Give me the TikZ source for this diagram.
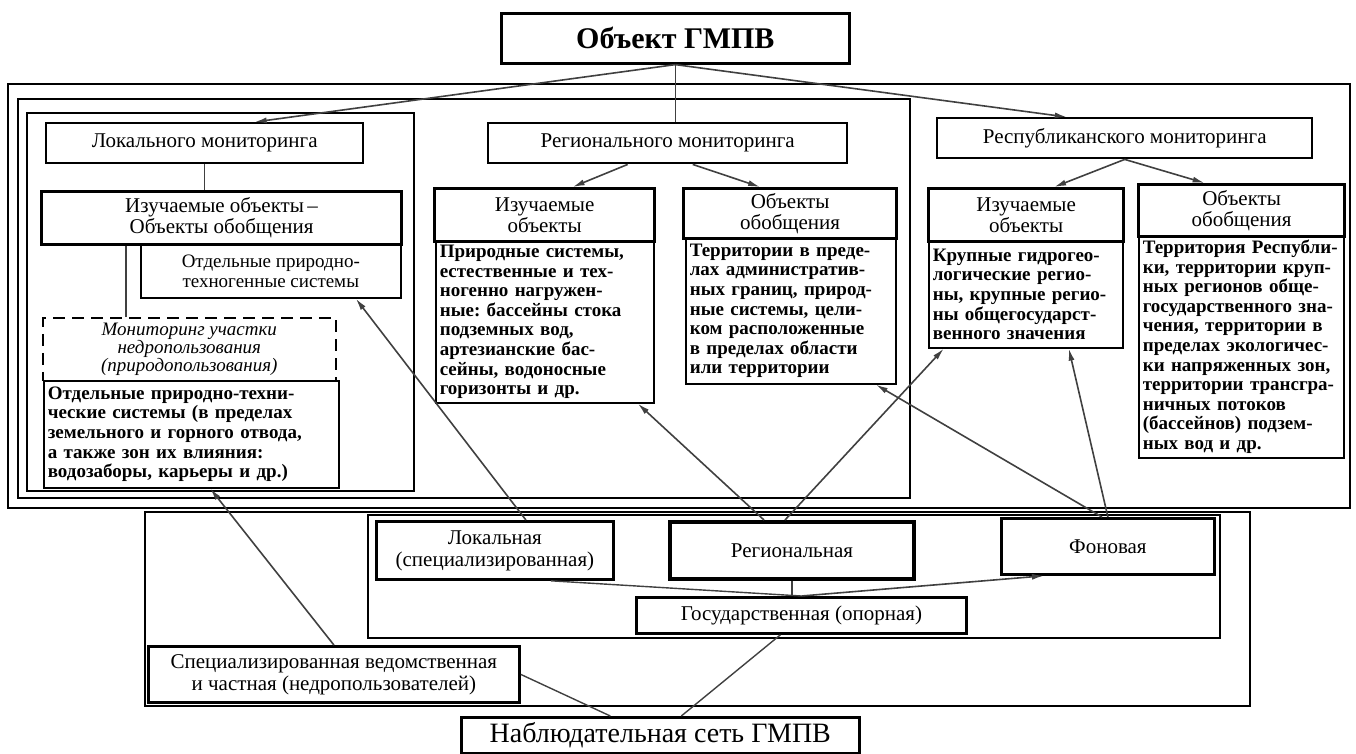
\documentclass[tikz,border=0pt]{standalone}
\usepackage{fontspec}
\setmainfont{Liberation Serif}
\usetikzlibrary{positioning,arrows.meta}
\frenchspacing

\begin{document}
\begin{tikzpicture}[x=1pt, y=-1pt,
  frm/.style={line width=1.3pt},
  mainbox/.style={draw, line width=2.6pt, anchor=north west, align=center, inner sep=1pt},
  lvl/.style={draw, line width=2.4pt, anchor=north west, align=center, inner sep=1pt,
              font=\fontsize{21}{22}\selectfont},
  hdr/.style={draw, line width=3.2pt, anchor=north west, align=center, inner sep=1pt,
              font=\fontsize{21}{21}\selectfont},
  txt/.style={draw, line width=1.6pt, anchor=north west, align=left, inner xsep=4pt,
              inner ysep=1pt, font=\fontsize{19}{19.6}\selectfont\bfseries},
  netbox/.style={draw, line width=2.8pt, anchor=north west, align=center, inner sep=1pt,
                 font=\fontsize{21}{22}\selectfont},
  ln/.style={line width=1.4pt, black!75},
  ar/.style={-{Latex[length=12pt,width=6pt]}, line width=1.6pt, black!75}]
\useasboundingbox (0,0) rectangle (1356,753);
\draw[frm] (8,84) rectangle (1350,508);
\draw[frm] (18,99) rectangle (910,498);
\draw[frm] (27,113) rectangle (414,491);
\draw[frm] (145,512) rectangle (1250,706);
\draw[frm] (368,515) rectangle (1220,638);

\node[mainbox, minimum width=348, minimum height=50, font=\fontsize{30}{32}\selectfont\bfseries] (obj) at (500,12) {Объект ГМПВ};
\node[lvl, minimum width=317, minimum height=40] (loc) at (45,122) {Локального мониторинга};
\node[lvl, minimum width=359, minimum height=40] (reg) at (487,122) {Регионального мониторинга};
\node[lvl, minimum width=375, minimum height=40] (rep) at (936,117) {Республиканского мониторинга};

\node[hdr, minimum width=360, minimum height=53] (locobj) at (40,190) {Изучаемые объекты\,--\\Объекты обобщения};
\node[lvl, line width=1.6pt, minimum width=260, minimum height=54, font=\fontsize{19}{20}\selectfont] (locsys) at (140,243) {Отдельные природно-\\техногенные системы};
\node[draw, dash pattern=on 12pt off 7pt, line width=1.6pt, anchor=north west, align=center, inner sep=1pt,
      minimum width=293, minimum height=63, font=\fontsize{19}{18.3}\selectfont\itshape] (locmon) at (42,317)
  {Мониторинг участки\\недропользования\\(природопользования)};
\node[txt, minimum width=295, minimum height=107, text width=287] (locsys2) at (43,380)
  {Отдельные природно-техни-\\ческие системы (в пределах\\земельного и горного отвода,\\а также зон их влияния:\\водозаборы, карьеры и др.)};

\node[hdr, minimum width=220, minimum height=53] (regobj) at (433,187) {Изучаемые\\объекты};
\node[txt, minimum width=218, minimum height=162, text width=210] (regobjt) at (435,240)
  {Природные системы,\\естественные и тех-\\ногенно нагружен-\\ные: бассейны стока\\подземных вод,\\артезианские бас-\\сейны, водоносные\\горизонты и др.};
\node[hdr, minimum width=213, minimum height=50] (reggen) at (682,187) {Объекты\\обобщения};
\node[txt, minimum width=210, minimum height=146, text width=202] (reggent) at (685,237)
  {Территории в преде-\\лах административ-\\ных границ, природ-\\ные системы, цели-\\ком расположенные\\в пределах области\\или территории};

\node[hdr, minimum width=195, minimum height=53] (repobj) at (927,187) {Изучаемые\\объекты};
\node[txt, minimum width=194, minimum height=107, text width=186] (repobjt) at (928,240)
  {Крупные гидрогео-\\логические регио-\\ны, крупные регио-\\ны общегосударст-\\венного значения};
\node[hdr, minimum width=206, minimum height=52] (repgen) at (1137,183) {Объекты\\обобщения};
\node[txt, minimum width=205, minimum height=222, text width=197] (repgent) at (1138,235)
  {Территория Республи-\\ки, территории круп-\\ных регионов обще-\\государственного зна-\\чения, территории в\\пределах экологичес-\\ки напряженных зон,\\территории трансгра-\\ничных потоков\\(бассейнов) подзем-\\ных вод и др.};

\node[netbox, minimum width=237, minimum height=58] (lcl) at (375,520) {Локальная\\(специализированная)};
\node[netbox, line width=4pt, minimum width=244, minimum height=57] (rgn) at (668,520) {Региональная};
\node[netbox, minimum width=213, minimum height=56] (fon) at (1000,517) {Фоновая};
\node[netbox, minimum width=330, minimum height=36] (gos) at (635,596) {Государственная (опорная)};
\node[netbox, minimum width=371, minimum height=56] (spec) at (147,645) {Специализированная ведомственная\\и частная (недропользователей)};
\node[mainbox, minimum width=398, minimum height=36, font=\fontsize{28}{30}\selectfont] (nab) at (460,716) {Наблюдательная сеть ГМПВ};

\draw[ar] (obj.south) -- ([xshift=50]loc.north);
\draw[ln] (obj.south) -- (obj.south |- reg.north);
\draw[ar] (obj.south) -- ([xshift=-58]rep.north);
\draw[ln] (loc.south) -- (loc.south |- locobj.north);
\draw[ln] ([xshift=84]locmon.north west) -- ([xshift=84]locmon.north west |- locobj.south);
\draw[ar] ([xshift=-40]reg.south) -- ([xshift=28]regobj.north);
\draw[ar] ([xshift=25]reg.south) -- ([xshift=-30]reggen.north);
\draw[ar] (rep.south) -- ([xshift=28]repobj.north);
\draw[ar] (rep.south) -- ([xshift=-37]repgen.north);

\foreach \a/\sa/\b/\sb in {spec/0/locsys2/19, lcl/31/locsys/85, rgn/-28/regobjt/93,
                           rgn/-7/repobjt/-82, fon/-6/reggent/85, fon/0/repobjt/43}
  \draw[ar] ([xshift=\sa]\a.north) -- ([xshift=\sb]\b.south);

\draw[ln] ([xshift=56]lcl.south) -- (gos.north);
\draw[ln] (rgn.south) -- (rgn.south |- gos.north);
\draw[ar] (gos.north) -- ([xshift=-64]fon.south);
\draw[ln] (spec.east) -- ([xshift=-50]nab.north);
\draw[ln] ([xshift=-21]gos.south) -- ([xshift=21]nab.north);
\end{tikzpicture}
\end{document}
